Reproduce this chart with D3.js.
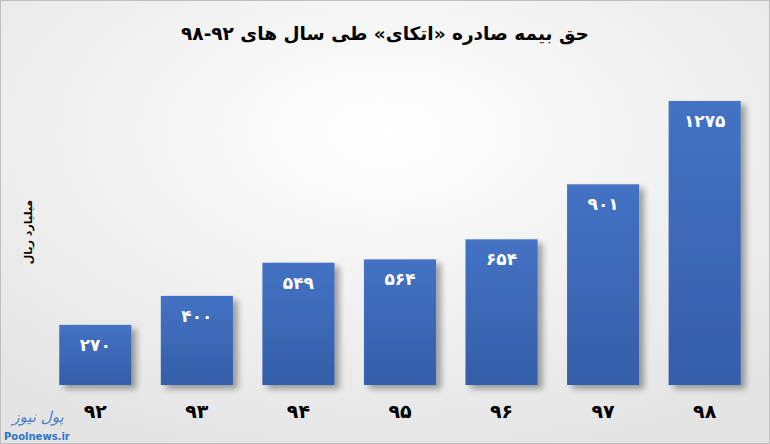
<!DOCTYPE html>
<html><head><meta charset="utf-8">
<script src="https://cdn.jsdelivr.net/npm/d3@7"></script>
<style>body{margin:0;background:#fff}svg{display:block}</style>
</head><body>
<script>
const categories = ["۹۲","۹۳","۹۴","۹۵","۹۶","۹۷","۹۸"];
const values = [270, 400, 549, 564, 654, 901, 1275];
const valueLabels = ["۲۷۰","۴۰۰","۵۴۹","۵۶۴","۶۵۴","۹۰۱","۱۲۷۵"];
const title = "حق بیمه صادره «اتکای» طی سال های ۹۲-۹۸";
const yLabel = "میلیارد ریال";

const W = 770, H = 444;
const svg = d3.select("body").append("svg").attr("width", W).attr("height", H);
const defs = svg.append("defs");
const bg = defs.append("radialGradient").attr("id","bg").attr("cx","50%").attr("cy","30%").attr("r","75%");
bg.append("stop").attr("offset","0%").attr("stop-color","#ffffff");
bg.append("stop").attr("offset","100%").attr("stop-color","#e4e4e4");
const bar = defs.append("linearGradient").attr("id","bar").attr("x1",0).attr("y1",0).attr("x2",0).attr("y2",1);
bar.append("stop").attr("offset","0%").attr("stop-color","#4472c4");
bar.append("stop").attr("offset","100%").attr("stop-color","#345ea9");
const sh = defs.append("filter").attr("id","sh").attr("x","-20%").attr("y","-20%").attr("width","150%").attr("height","150%");
sh.append("feGaussianBlur").attr("in","SourceAlpha").attr("stdDeviation",3);
sh.append("feOffset").attr("dx",5).attr("dy",4).attr("result","b");
sh.append("feComponentTransfer").append("feFuncA").attr("type","linear").attr("slope",0.35);
const m = sh.append("feMerge"); m.append("feMergeNode"); m.append("feMergeNode").attr("in","SourceGraphic");

svg.append("rect").attr("x",0.5).attr("y",0.5).attr("width",W-1).attr("height",H-1)
  .attr("fill","url(#bg)").attr("stroke","#bfbfbf");

const x = d3.scaleBand().domain(categories).range([42, 758]).paddingInner(0.29).paddingOuter(0.17);
const y = d3.scaleLinear().domain([0, 1275]).range([385, 101]);

svg.selectAll("rect.bar").data(values).join("rect").attr("class","bar")
  .attr("x",(d,i)=>x(categories[i])).attr("width",x.bandwidth())
  .attr("y",d=>y(d)).attr("height",d=>y(0)-y(d))
  .attr("fill","url(#bar)").attr("filter","url(#sh)");

svg.selectAll("text.val").data(values).join("text").attr("class","val")
  .attr("x",(d,i)=>x(categories[i])+x.bandwidth()/2).attr("y",d=>y(d)+26)
  .attr("text-anchor","middle").attr("fill","#fff")
  .attr("font-family","DejaVu Sans").attr("font-weight","bold").attr("font-size",17)
  .text((d,i)=>valueLabels[i]);

svg.selectAll("text.cat").data(categories).join("text").attr("class","cat")
  .attr("x",d=>x(d)+x.bandwidth()/2).attr("y",418)
  .attr("text-anchor","middle").attr("fill","#000")
  .attr("font-family","DejaVu Sans").attr("font-weight","bold").attr("font-size",19)
  .text(d=>d);

svg.append("text").attr("x",385).attr("y",40).attr("text-anchor","middle")
  .attr("direction","rtl")
  .attr("font-family","DejaVu Sans").attr("font-weight","bold").attr("font-size",18.5).attr("fill","#000")
  .text(title);

svg.append("text").attr("transform","translate(32,232) rotate(-90)").attr("text-anchor","middle")
  .attr("font-family","DejaVu Sans").attr("font-weight","bold").attr("font-size",11).attr("fill","#000")
  .text(yLabel);

// watermark
svg.append("text").attr("x",38).attr("y",422).attr("text-anchor","middle")
  .attr("font-family","DejaVu Sans").attr("font-size",15).attr("fill","#4a7fc8").attr("font-style","italic")
  .text("پول نیوز");
svg.append("text").attr("x",4).attr("y",440)
  .attr("font-family","DejaVu Sans").attr("font-weight","bold").attr("font-size",10).attr("fill","#2e75c6")
  .text("Poolnews.ir");
</script>
</body></html>
